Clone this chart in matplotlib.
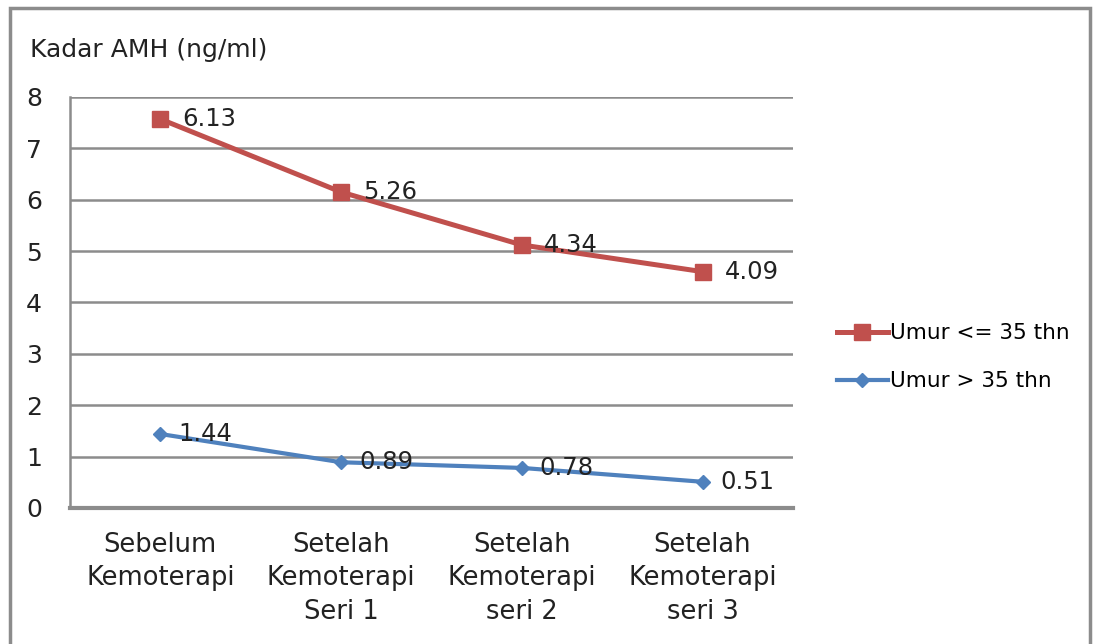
import numpy as np
import matplotlib.pyplot as plt
from matplotlib.patches import Rectangle

categories = ["Sebelum\nKemoterapi", "Setelah\nKemoterapi\nSeri 1",
              "Setelah\nKemoterapi\nseri 2", "Setelah\nKemoterapi\nseri 3"]
muda = [6.13, 5.26, 4.34, 4.09]   # Umur <= 35 thn
tua = [1.44, 0.89, 0.78, 0.51]    # Umur > 35 thn

# grafik garis bertumpuk (stacked) seperti di Excel
muda_stack = np.array(tua) + np.array(muda)
x = np.arange(len(categories))

fig = plt.figure(figsize=(10.97, 6.44), dpi=100)
ax = fig.add_axes([0.0638, 0.2112, 0.659, 0.6382])

red = "#C0504D"
blue = "#4F81BD"
txt = "#222222"
ax.plot(x, muda_stack, color=red, lw=3.6, marker="s", ms=11.5, label="Umur <= 35 thn", zorder=3)
ax.plot(x, tua, color=blue, lw=3.0, marker="D", ms=7.5, label="Umur > 35 thn", zorder=3)

for xi, yi, v in zip(x, muda_stack, muda):
    ax.annotate(f"{v:.2f}", (xi, yi), xytext=(16, 0), textcoords="offset points",
                va="center", ha="left", fontsize=17.5, color=txt, zorder=4)
for xi, yi, v in zip(x, tua, tua):
    ax.annotate(f"{v:.2f}", (xi, yi), xytext=(13, 0), textcoords="offset points",
                va="center", ha="left", fontsize=17.5, color=txt, zorder=4)

ax.set_xlim(-0.5, 3.5)
ax.set_ylim(0, 8)
ax.set_yticks(range(0, 9))
ax.set_xticks(x)
ax.set_xticklabels(categories, fontsize=18.5, color=txt, linespacing=1.38)
ax.tick_params(axis="y", labelsize=18, length=0, pad=20, labelcolor=txt)
ax.tick_params(axis="x", length=0, pad=17)
ax.grid(axis="y", color="#8c8c8c", lw=1.8)
ax.set_axisbelow(True)
for s in ["top", "right"]:
    ax.spines[s].set_visible(False)
ax.spines["left"].set_color("#8c8c8c")
ax.spines["left"].set_linewidth(1.8)
ax.spines["bottom"].set_color("#8c8c8c")
ax.spines["bottom"].set_linewidth(3)

fig.text(0.027, 0.922, "Kadar AMH (ng/ml)", fontsize=18, color=txt, va="center")

leg = fig.legend(loc="center left", bbox_to_anchor=(0.745, 0.445), frameon=False,
                 fontsize=15.5, handlelength=2.4, handletextpad=0.1, labelspacing=1.3)

fig.patches.append(Rectangle((0.009, -0.01), 0.985, 0.998, transform=fig.transFigure,
                             fill=False, edgecolor="#8c8c8c", lw=2.5))

fig.savefig("out.png", dpi=100)
